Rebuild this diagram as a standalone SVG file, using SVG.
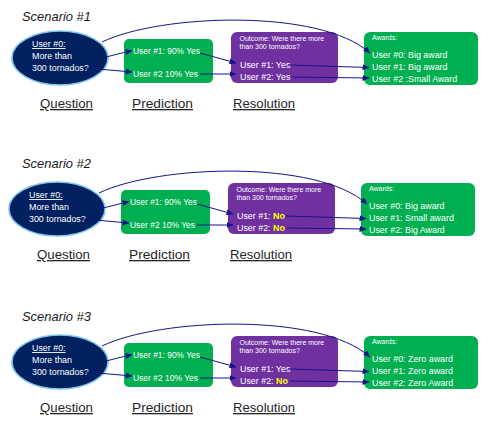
<svg xmlns="http://www.w3.org/2000/svg" width="489" height="430" viewBox="0 0 489 430">
<style>
  .bg{fill:#ffffff}
  .title{font-family:"Liberation Sans",Arial,sans-serif;font-style:italic;font-size:13.5px;fill:#1a1a1a}
  .lbl{font-family:"Liberation Sans",Arial,sans-serif;font-size:13px;fill:#262626;text-decoration:underline}
  .q{fill:#002060;stroke:#7EC8EE;stroke-width:1.5}
  .pred{fill:#00B050}
  .res{fill:#7030A0}
  .aw{fill:#00B050}
  .t{font-family:"Liberation Sans",Arial,sans-serif;font-size:8.9px;fill:#ffffff}
  .s{font-family:"Liberation Sans",Arial,sans-serif;font-size:7px;fill:#ffffff}
  .u{text-decoration:underline}
  .no{fill:#FFFF00;font-weight:bold}
  .c{fill:none;stroke:#14148C;stroke-width:1;marker-end:url(#ah)}
</style>
<defs>
  <marker id="ah" markerUnits="userSpaceOnUse" markerWidth="7" markerHeight="6" refX="6.5" refY="3" orient="auto">
    <path d="M0,0 L7,3 L0,6 z" fill="#14148C"/>
  </marker>
</defs>
<rect class="bg" x="0" y="0" width="489" height="430"/>

<!-- Scenario 1 -->
<text class="title" x="22" y="21" textLength="69" lengthAdjust="spacingAndGlyphs">Scenario #1</text>
<g id="scenario1">
  <g id="s1-question">
    <ellipse class="q" cx="60" cy="58" rx="48" ry="27"/>
    <text class="t u" x="32" y="47">User #0:</text>
    <text class="t" x="32" y="59">More than</text>
    <text class="t" x="32" y="70.5">300 tornados?</text>
  </g>
  <g id="s1-prediction">
    <rect class="pred" x="124" y="39" width="89" height="44" rx="5"/>
    <text class="t" x="133" y="53.5" textLength="67" lengthAdjust="spacingAndGlyphs">User #1: 90% Yes</text>
    <text class="t" x="133" y="77" textLength="65" lengthAdjust="spacingAndGlyphs">User #2 10% Yes</text>
  </g>
  <g id="s1-resolution">
    <rect class="res" x="231" y="32" width="107" height="51" rx="6"/>
    <text class="s" x="239.5" y="40.5">Outcome: Were there more</text>
    <text class="s" x="239.5" y="49">than 300 tornados?</text>
    <text class="t" x="240" y="67.5">User #1: Yes</text>
    <text class="t" x="240" y="79.5">User #2: Yes</text>
  </g>
  <g id="s1-awards">
    <rect class="aw" x="364" y="32" width="114" height="53" rx="6"/>
    <text class="s" x="372" y="39.5">Awards:</text>
    <text class="t" x="372" y="58">User #0: Big award</text>
    <text class="t" x="372" y="70">User #1: Big award</text>
    <text class="t" x="372" y="82">User #2 :Small Award</text>
  </g>
  <g id="s1-labels">
    <text class="lbl" x="40" y="108" textLength="53" lengthAdjust="spacingAndGlyphs">Question</text>
    <text class="lbl" x="132" y="108" textLength="61" lengthAdjust="spacingAndGlyphs">Prediction</text>
    <text class="lbl" x="233" y="108" textLength="62" lengthAdjust="spacingAndGlyphs">Resolution</text>
  </g>
  <g id="s1-connectors">
    <path class="c" d="M102,42 C160,14 320,8 370,53"/>
    <path class="c" d="M106,57 L132,50.5"/>
    <path class="c" d="M86,68 L132,72"/>
    <path class="c" d="M200,53 L236,63"/>
    <path class="c" d="M200,74 L236,74"/>
    <path class="c" d="M288,65 L369,67.5"/>
    <path class="c" d="M292,77 L369,78"/>
  </g>
</g>

<!-- Scenario 2 -->
<text class="title" x="22" y="168" textLength="69" lengthAdjust="spacingAndGlyphs">Scenario #2</text>
<g id="scenario2" transform="translate(-3,151)">
  <g id="s2-question">
    <ellipse class="q" cx="60" cy="58" rx="48" ry="27"/>
    <text class="t u" x="32" y="47">User #0:</text>
    <text class="t" x="32" y="59">More than</text>
    <text class="t" x="32" y="70.5">300 tornados?</text>
  </g>
  <g id="s2-prediction">
    <rect class="pred" x="124" y="39" width="89" height="44" rx="5"/>
    <text class="t" x="133" y="53.5" textLength="67" lengthAdjust="spacingAndGlyphs">User #1: 90% Yes</text>
    <text class="t" x="133" y="77" textLength="65" lengthAdjust="spacingAndGlyphs">User #2 10% Yes</text>
  </g>
  <g id="s2-resolution">
    <rect class="res" x="231" y="32" width="107" height="51" rx="6"/>
    <text class="s" x="239.5" y="40.5">Outcome: Were there more</text>
    <text class="s" x="239.5" y="49">than 300 tornados?</text>
    <text class="t" x="240" y="67.5">User #1: <tspan class="no">No</tspan></text>
    <text class="t" x="240" y="79.5">User #2: <tspan class="no">No</tspan></text>
  </g>
  <g id="s2-awards">
    <rect class="aw" x="364" y="32" width="114" height="53" rx="6"/>
    <text class="s" x="372" y="39.5">Awards:</text>
    <text class="t" x="372" y="58">User #0: Big award</text>
    <text class="t" x="372" y="70">User #1: Small award</text>
    <text class="t" x="372" y="82">User #2: Big Award</text>
  </g>
  <g id="s2-labels">
    <text class="lbl" x="40" y="108" textLength="53" lengthAdjust="spacingAndGlyphs">Question</text>
    <text class="lbl" x="132" y="108" textLength="61" lengthAdjust="spacingAndGlyphs">Prediction</text>
    <text class="lbl" x="233" y="108" textLength="62" lengthAdjust="spacingAndGlyphs">Resolution</text>
  </g>
  <g id="s2-connectors">
    <path class="c" d="M102,42 C160,14 320,8 370,53"/>
    <path class="c" d="M106,57 L132,50.5"/>
    <path class="c" d="M86,68 L132,72"/>
    <path class="c" d="M200,53 L236,63"/>
    <path class="c" d="M200,74 L236,74"/>
    <path class="c" d="M289,65 L369,67.5"/>
    <path class="c" d="M290,77 L369,78"/>
  </g>
</g>

<!-- Scenario 3 -->
<text class="title" x="22" y="321" textLength="69" lengthAdjust="spacingAndGlyphs">Scenario #3</text>
<g id="scenario3" transform="translate(0,304)">
  <g id="s3-question">
    <ellipse class="q" cx="60" cy="58" rx="48" ry="27"/>
    <text class="t u" x="32" y="47">User #0:</text>
    <text class="t" x="32" y="59">More than</text>
    <text class="t" x="32" y="70.5">300 tornados?</text>
  </g>
  <g id="s3-prediction">
    <rect class="pred" x="124" y="39" width="89" height="44" rx="5"/>
    <text class="t" x="133" y="53.5" textLength="67" lengthAdjust="spacingAndGlyphs">User #1: 90% Yes</text>
    <text class="t" x="133" y="77" textLength="65" lengthAdjust="spacingAndGlyphs">User #2 10% Yes</text>
  </g>
  <g id="s3-resolution">
    <rect class="res" x="231" y="32" width="107" height="51" rx="6"/>
    <text class="s" x="239.5" y="40.5">Outcome: Were there more</text>
    <text class="s" x="239.5" y="49">than 300 tornados?</text>
    <text class="t" x="240" y="67.5">User #1: Yes</text>
    <text class="t" x="240" y="79.5">User #2: <tspan class="no">No</tspan></text>
  </g>
  <g id="s3-awards">
    <rect class="aw" x="364" y="32" width="114" height="53" rx="6"/>
    <text class="s" x="372" y="39.5">Awards:</text>
    <text class="t" x="372" y="58">User #0: Zero award</text>
    <text class="t" x="372" y="70">User #1: Zero award</text>
    <text class="t" x="372" y="82">User #2: Zero Award</text>
  </g>
  <g id="s3-labels">
    <text class="lbl" x="40" y="108" textLength="53" lengthAdjust="spacingAndGlyphs">Question</text>
    <text class="lbl" x="132" y="108" textLength="61" lengthAdjust="spacingAndGlyphs">Prediction</text>
    <text class="lbl" x="233" y="108" textLength="62" lengthAdjust="spacingAndGlyphs">Resolution</text>
  </g>
  <g id="s3-connectors">
    <path class="c" d="M102,42 C160,14 320,8 370,53"/>
    <path class="c" d="M106,57 L132,50.5"/>
    <path class="c" d="M86,68 L132,72"/>
    <path class="c" d="M200,53 L236,63"/>
    <path class="c" d="M200,74 L236,74"/>
    <path class="c" d="M288,65 L369,67.5"/>
    <path class="c" d="M290,77 L369,78"/>
  </g>
</g>
</svg>
